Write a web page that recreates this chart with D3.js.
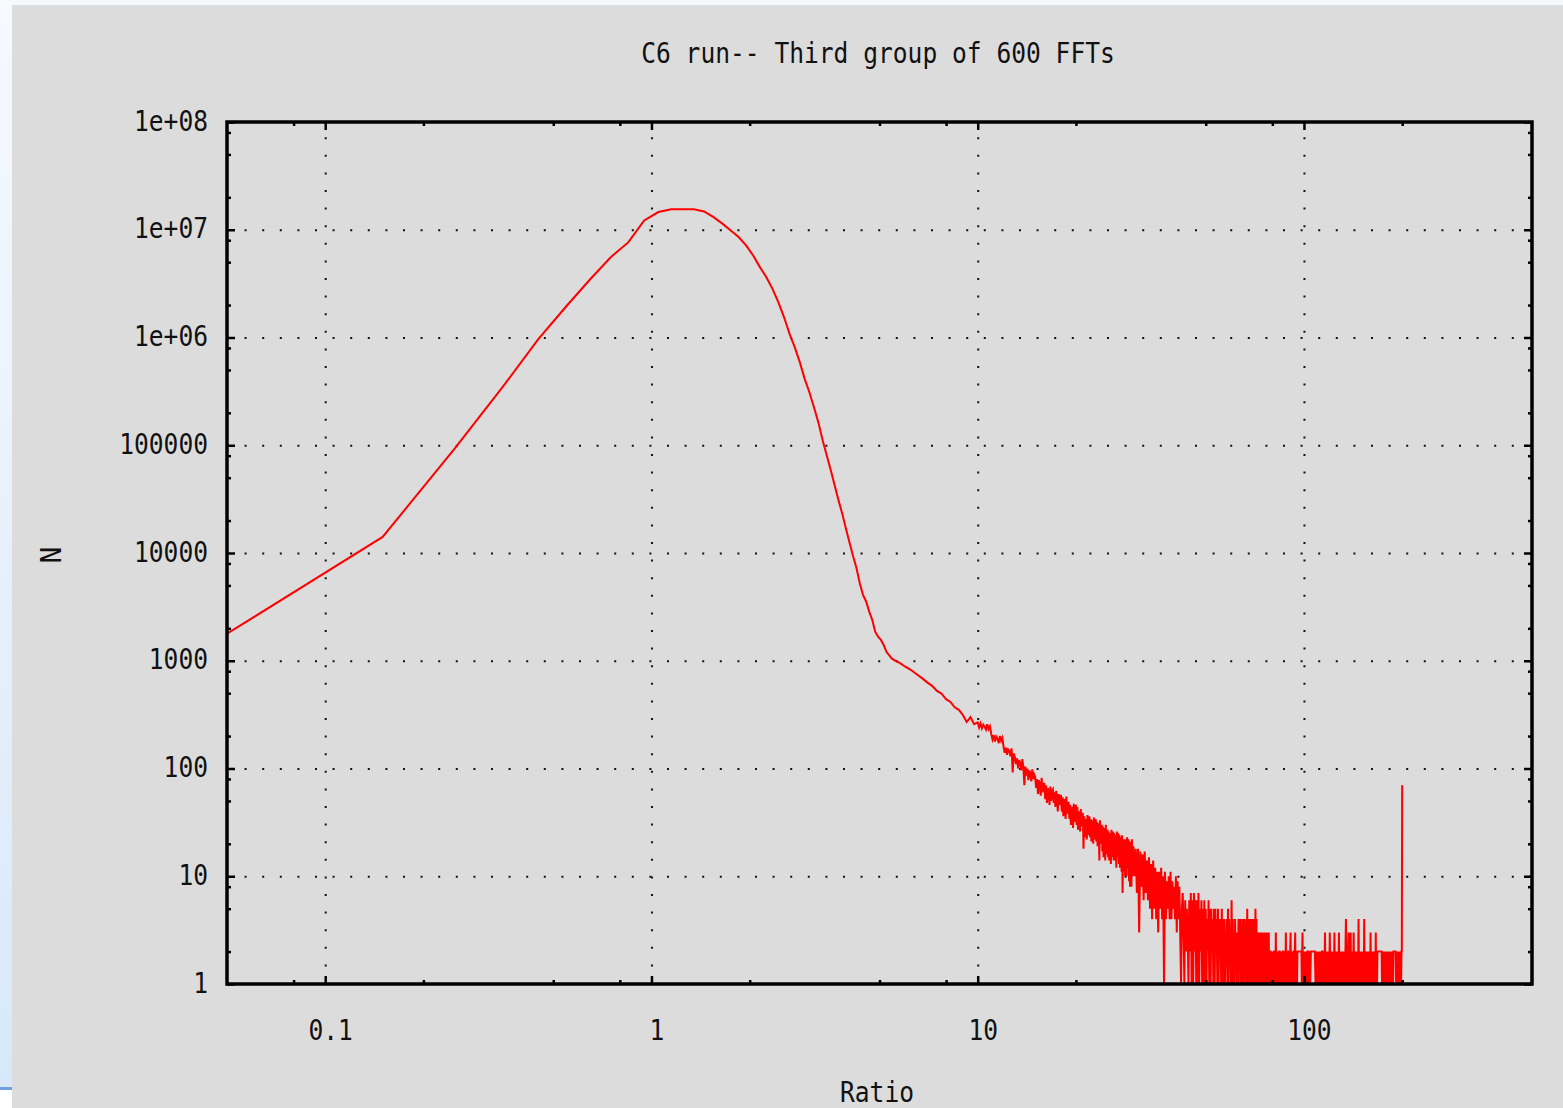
<!DOCTYPE html>
<html>
<head>
<meta charset="utf-8">
<script src="https://cdnjs.cloudflare.com/ajax/libs/d3/7.8.5/d3.min.js"></script>
<style>
  html, body { margin: 0; padding: 0; background: #fff; overflow: hidden; }
  text { font-family: "DejaVu Sans Mono", monospace; font-size: 28px; fill: #111; }
</style>
</head>
<body>
<div id="chart"></div>
<script>
// histogram of the ratio
var titleText = 'C6 run-- Third group of 600 FFTs';
var xLabelText = 'Ratio';
var yLabelText = 'N';

var xTickValues = [0.1, 1, 10, 100];
var xTickLabels = ['0.1', '1', '10', '100'];
var yTickValues = [1, 10, 100, 1000, 10000, 100000, 1e6, 1e7, 1e8];
var yTickLabels = ['1', '10', '100', '1000', '10000', '100000', '1e+06', '1e+07', '1e+08'];
var minorMultiples = [2, 5, 8];

// body of the curve: bins 0.05, 0.15, ... 5.65 (width 0.1)
var bodyStart = 0.05, bodyStep = 0.1;
var bodyCounts = [
  1780, 14100, 94000, 348000, 964000, 1970000, 3490000, 5560000, 7670000, 12200000,
  14600000, 15500000, 15500000, 15500000, 14800000, 13100000, 11400000, 9860000, 8560000, 7150000,
  5770000, 4500000, 3630000, 2830000, 2120000, 1540000, 1080000, 810000, 588000, 411000,
  309000, 224000, 162000, 110000, 79500, 57600, 41700, 30300, 22800, 16600,
  12400, 9340, 7250, 5250, 4090, 3550, 2860, 2400, 1860, 1670,
  1560, 1400, 1210, 1130, 1050, 1015, 980
];

// tail, 5.75 .. 9.75 every 0.25
var tailAStart = 5.75, tailAStep = 0.25;
var tailACounts = [960, 880, 820, 750, 690, 630, 585, 525, 495, 440, 415, 370, 350, 315, 270, 300, 258];

// 10 .. 29.9 every 0.1 (one row per unit of ratio)
var tailBStart = 10, tailBStep = 0.1;
var tailBCounts = [
  268, 240, 262, 236, 255, 244, 230, 258, 232, 246,
  210, 186, 204, 178, 198, 190, 172, 200, 180, 192,
  160, 140, 156, 134, 150, 145, 130, 154, 92, 138,
  128, 110, 124, 100, 120, 112, 96, 122, 104, 70,
  104, 86, 100, 78, 96, 90, 76, 98, 80, 88,
  84, 66, 80, 58, 78, 70, 56, 82, 60, 72,
  72, 52, 70, 48, 66, 60, 46, 68, 50, 62,
  64, 48, 60, 44, 62, 54, 40, 58, 46, 56,
  56, 40, 54, 36, 52, 46, 34, 55, 38, 48,
  48, 34, 46, 30, 44, 38, 28, 47, 32, 42,
  46, 30, 44, 27, 40, 34, 26, 42, 29, 38,
  38, 18, 36, 23, 34, 28, 22, 37, 24, 32,
  36, 23, 34, 21, 33, 27, 20, 35, 22, 30,
  34, 21, 32, 19, 31, 25, 14, 33, 20, 28,
  30, 17, 29, 15, 28, 22, 14, 30, 16, 25,
  27, 15, 26, 14, 25, 20, 13, 27, 15, 22,
  26, 14, 25, 14, 24, 19, 12, 26, 15, 21,
  25, 13, 24, 12, 23, 18, 11, 24, 7, 20,
  22, 11, 21, 10, 22, 16, 10, 23, 12, 18,
  22, 9, 20, 8, 21, 14, 8, 22, 10, 17
];

// 30 .. 49.75 every 0.25
var tailCStart = 30, tailCStep = 0.25;
var tailCCounts = [
  19, 10, 18, 7,   18, 3, 17, 8,    16, 6, 17, 7,    14, 6, 15, 5,    13, 4, 14, 5,
  12, 4, 11, 3,    11, 5, 12, 4,    10, 1, 11, 4,    9, 5, 10, 4,     11, 4, 9, 5,
  8, 4, 10, 3,     9, 4, 8, 3,      1, 5, 7, 3,      1, 6, 2, 5,      3, 1, 6, 2,
  7, 1, 6, 1,      7, 2, 6, 1,      6, 1, 7, 1,      5, 2, 6, 1,      5, 1, 6, 1
];

// 50 .. 99.75 every 0.25
var tailDStart = 50, tailDStep = 0.25;
var tailDCounts = [
  5, 1, 4, 2,  6, 1, 5, 1,  5, 2, 4, 1,  5, 1, 5, 2,  4, 1, 5, 1,
  4, 2, 4, 1,  5, 1, 4, 1,  4, 1, 3, 2,  4, 1, 5, 1,  4, 2, 3, 1,
  6, 1, 4, 1,  3, 1, 4, 2,  3, 1, 3, 1,  4, 2, 4, 1,  4, 1, 3, 1,
  4, 1, 4, 2,  3, 1, 4, 1,  5, 1, 3, 2,  4, 1, 4, 1,  3, 2, 4, 1,
  4, 1, 3, 1,  5, 2, 4, 1,  3, 1, 3, 1,  3, 2, 3, 1,  3, 1, 3, 2,
  3, 1, 3, 1,  3, 2, 3, 1,  3, 1, 3, 1,  3, 1, 2, 2,  2, 1, 2, 1,
  2, 1, 2, 1,  2, 2, 2, 1,  3, 1, 2, 1,  2, 1, 2, 1,  2, 2, 1, 2,
  1, 2, 1, 2,  1, 2, 2, 1,  2, 1, 2, 1,  3, 1, 2, 1,  2, 1, 2, 2,
  1, 2, 1, 2,  3, 1, 2, 1,  2, 1, 2, 1,  2, 2, 1, 2,  3, 1, 2, 1,
  2, 1, 2, 2,  2, 2, 2, 2,  2, 2, 2, 2,  2, 2, 1, 2,  3, 1, 2, 1
];

// 100 .. 199.5 every 0.5
var tailEStart = 100, tailEStep = 0.5;
var tailECounts = [
  1, 2, 1, 2, 1, 2, 2, 1, 2, 1,  2, 2, 2, 2, 2, 2, 2, 1, 2, 1,
  2, 1, 2, 1, 1, 2, 1, 2, 2, 1,  2, 1, 3, 1, 2, 1, 2, 1, 2, 1,
  3, 1, 2, 1, 2, 1, 2, 1, 3, 1,  2, 1, 2, 1, 2, 1, 3, 1, 2, 1,
  2, 1, 2, 1, 2, 1, 2, 1, 2, 4,  1, 2, 1, 2, 3, 1, 2, 1, 3, 1,
  2, 1, 2, 1, 3, 1, 2, 1, 2, 1,  2, 1, 2, 1, 4, 1, 2, 1, 2, 1,
  2, 1, 2, 1, 2, 1, 4, 1, 2, 1,  2, 1, 2, 1, 2, 1, 2, 1, 2, 1,
  3, 1, 2, 1, 2, 1, 2, 1, 2, 1,  2, 1, 3, 1, 2, 1, 2, 2, 2, 2,
  2, 2, 2, 2, 2, 2, 2, 1, 2, 1,  2, 1, 2, 1, 2, 1, 2, 1, 2, 1,
  2, 1, 2, 1, 2, 1, 2, 1, 2, 1,  2, 1, 2, 1, 2, 1, 2, 2, 2, 2,
  2, 2, 2, 1, 2, 1, 2, 1, 2, 1,  2, 1, 2, 1, 2, 1, 2, 1, 2, 2
];

// last (overflow) bin
var overflowRatio = [200];
var overflowCount = [70];

var svgWidth = 1563, svgHeight = 1108;
var plot = { left: 227, right: 1532, top: 122, bottom: 984 };

var svg = d3.select('#chart').append('svg')
  .attr('width', svgWidth).attr('height', svgHeight);

var defs = svg.append('defs');
var grad = defs.append('linearGradient').attr('id', 'side')
  .attr('x1', 0).attr('y1', 0).attr('x2', 0).attr('y2', 1);
grad.append('stop').attr('offset', '0%').attr('stop-color', '#f6f9fd');
grad.append('stop').attr('offset', '100%').attr('stop-color', '#d8e8f8');
defs.append('clipPath').attr('id', 'plotClip').append('rect')
  .attr('x', plot.left).attr('y', plot.top)
  .attr('width', plot.right - plot.left).attr('height', plot.bottom - plot.top);

// window around the gnuplot panel
svg.append('rect').attr('width', svgWidth).attr('height', svgHeight).attr('fill', '#fff');
svg.append('rect').attr('x', 0).attr('y', 0).attr('width', 12).attr('height', 1088).attr('fill', 'url(#side)');
svg.append('rect').attr('x', 0).attr('y', 1087).attr('width', 12).attr('height', 3).attr('fill', '#6f9fdc');
svg.append('rect').attr('x', 12).attr('y', 0).attr('width', svgWidth - 12).attr('height', 5).attr('fill', '#f5f8fb');
svg.append('rect').attr('x', 12).attr('y', 5).attr('width', svgWidth - 12).attr('height', svgHeight - 5).attr('fill', '#dcdcdc');

var x = d3.scaleLog().domain([0.05, 500]).range([plot.left, plot.right]);
var y = d3.scaleLog().domain([1, 1e8]).range([plot.bottom, plot.top]);

function minorTicks(domain) {
  var out = [];
  for (var e = -3; e <= 9; e++) {
    minorMultiples.forEach(function(m) {
      var v = m * Math.pow(10, e);
      if (v > domain[0] * 1.0001 && v < domain[1] * 0.9999) out.push(v);
    });
  }
  return out;
}
var xMinor = minorTicks(x.domain());
var yMinor = minorTicks(y.domain());

// dotted grid
svg.append('g').attr('class', 'grid')
  .attr('transform', 'translate(0,' + plot.bottom + ')')
  .call(d3.axisBottom(x).tickValues(xTickValues).tickSize(-(plot.bottom - plot.top)).tickFormat(''));
svg.append('g').attr('class', 'grid')
  .attr('transform', 'translate(' + plot.left + ',0)')
  .call(d3.axisLeft(y).tickValues(yTickValues.slice(1, -1)).tickSize(-(plot.right - plot.left)).tickFormat(''));
svg.selectAll('.grid .domain').remove();
svg.selectAll('.grid line')
  .attr('stroke', '#111').attr('stroke-width', 2).attr('stroke-dasharray', '2 15.6');

// the histogram
function bins(start, step, counts) {
  return counts.map(function(c, i) { return { r: start + i * step, n: c }; });
}
var points = [].concat(
  bins(bodyStart, bodyStep, bodyCounts),
  bins(tailAStart, tailAStep, tailACounts),
  bins(tailBStart, tailBStep, tailBCounts),
  bins(tailCStart, tailCStep, tailCCounts),
  bins(tailDStart, tailDStep, tailDCounts),
  bins(tailEStart, tailEStep, tailECounts),
  overflowRatio.map(function(r, i) { return { r: r, n: overflowCount[i] }; })
);

var line = d3.line()
  .x(function(d) { return x(d.r); })
  .y(function(d) { return y(d.n); });

svg.append('path')
  .datum(points)
  .attr('clip-path', 'url(#plotClip)')
  .attr('fill', 'none')
  .attr('stroke', '#ff0000')
  .attr('stroke-width', 2)
  .attr('stroke-linejoin', 'miter')
  .attr('d', line);

// ticks on all four sides, pointing inwards
function tickAxis(axis, transform, values, size) {
  var g = svg.append('g').attr('class', 'ticks').attr('transform', transform)
    .call(axis.tickValues(values).tickSizeInner(-size).tickSizeOuter(0).tickFormat(''));
  g.select('.domain').remove();
  g.selectAll('line').attr('stroke', '#000').attr('stroke-width', 2.5);
  return g;
}
tickAxis(d3.axisBottom(x), 'translate(0,' + plot.bottom + ')', xTickValues, 8);
tickAxis(d3.axisBottom(x), 'translate(0,' + plot.bottom + ')', xMinor, 4);
tickAxis(d3.axisTop(x), 'translate(0,' + plot.top + ')', xTickValues, 8);
tickAxis(d3.axisTop(x), 'translate(0,' + plot.top + ')', xMinor, 4);
tickAxis(d3.axisLeft(y), 'translate(' + plot.left + ',0)', yTickValues, 8);
tickAxis(d3.axisLeft(y), 'translate(' + plot.left + ',0)', yMinor, 4);
tickAxis(d3.axisRight(y), 'translate(' + plot.right + ',0)', yTickValues, 8);
tickAxis(d3.axisRight(y), 'translate(' + plot.right + ',0)', yMinor, 4);

// frame
svg.append('rect')
  .attr('x', plot.left).attr('y', plot.top)
  .attr('width', plot.right - plot.left).attr('height', plot.bottom - plot.top)
  .attr('fill', 'none').attr('stroke', '#000').attr('stroke-width', 3.5);

var charW = 14.8;

// tick labels
var xLabels = svg.append('g')
  .attr('transform', 'translate(0,' + plot.bottom + ')')
  .call(d3.axisBottom(x).tickValues(xTickValues).tickSize(0)
    .tickFormat(function(d, i) { return xTickLabels[i]; }));
xLabels.select('.domain').remove();
xLabels.selectAll('text')
  .attr('y', 0).attr('dy', 56).attr('dx', 5)
  .attr('textLength', function(d, i) { return xTickLabels[i].length * charW; })
  .attr('lengthAdjust', 'spacingAndGlyphs');

var yLabels = svg.append('g')
  .attr('transform', 'translate(' + plot.left + ',0)')
  .call(d3.axisLeft(y).tickValues(yTickValues).tickSize(0)
    .tickFormat(function(d, i) { return yTickLabels[i]; }));
yLabels.select('.domain').remove();
yLabels.selectAll('text')
  .attr('x', -19).attr('dy', 8)
  .attr('textLength', function(d, i) { return yTickLabels[i].length * charW; })
  .attr('lengthAdjust', 'spacingAndGlyphs');

// title and axis titles
svg.append('text')
  .attr('x', 878).attr('y', 63)
  .attr('text-anchor', 'middle')
  .attr('textLength', titleText.length * charW).attr('lengthAdjust', 'spacingAndGlyphs')
  .text(titleText);

svg.append('text')
  .attr('x', 877).attr('y', 1102)
  .attr('text-anchor', 'middle')
  .attr('textLength', xLabelText.length * charW).attr('lengthAdjust', 'spacingAndGlyphs')
  .text(xLabelText);

svg.append('text')
  .attr('transform', 'translate(61,555) rotate(-90)')
  .attr('text-anchor', 'middle')
  .text(yLabelText);
</script>
</body>
</html>
